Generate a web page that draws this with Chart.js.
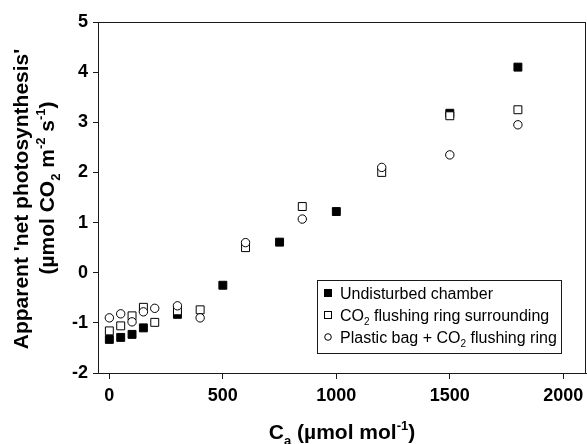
<!DOCTYPE html>
<html>
<head>
<meta charset="utf-8">
<script src="https://cdn.jsdelivr.net/npm/chart.js@4"></script>
<style>
  html, body { margin: 0; padding: 0; background: #fff; }
  canvas { display: block; }
</style>
</head>
<body>
<canvas id="chart" width="587" height="444"></canvas>
<script>
// ---- data ----
const caUndisturbed = [0, 50, 100, 150, 300, 500, 750, 1000, 1500, 1800];
const anUndisturbed = [-1.33, -1.29, -1.23, -1.10, -0.83, -0.25, 0.61, 1.22, 3.18, 4.10];

const caRing = [0, 50, 100, 150, 200, 300, 400, 600, 850, 1200, 1500, 1800];
const anRing = [-1.16, -1.06, -0.86, -0.69, -0.99, -0.76, -0.74, 0.50, 1.32, 2.00, 3.13, 3.25];

const caBag = [0, 50, 100, 150, 200, 300, 400, 600, 850, 1200, 1500, 1800];
const anBag = [-0.90, -0.82, -0.98, -0.78, -0.71, -0.66, -0.90, 0.60, 1.07, 2.10, 2.35, 2.95];

const xTicks = [0, 500, 1000, 1500, 2000];
const yTicks = [-2, -1, 0, 1, 2, 3, 4, 5];

const seriesNames = [
    'Undisturbed chamber',
    'CO_{2} flushing ring surrounding',
    'Plastic bag + CO_{2} flushing ring'
];
const xTitle = 'C_{a} (\u00b5mol mol^{-1})';
const yTitle = ["Apparent 'net photosynthesis'", '(\u00b5mol CO_{2} m^{-2} s^{-1})'];

const FONT = 'Arial, "Liberation Sans", Helvetica, sans-serif';
const INK = '#1a1a1a';

const toPoints = (xs, ys) => xs.map((x, i) => ({ x: x, y: ys[i] }));

// ---- rich text: _{..} subscript, ^{..} superscript ----
function parseRich(str) {
    const parts = [];
    const re = /([_^])\{([^}]*)\}/g;
    let last = 0, m;
    while ((m = re.exec(str)) !== null) {
        if (m.index > last) parts.push({ t: str.slice(last, m.index), k: 'n' });
        parts.push({ t: m[2], k: m[1] === '_' ? 'sub' : 'sup' });
        last = re.lastIndex;
    }
    if (last < str.length) parts.push({ t: str.slice(last), k: 'n' });
    return parts;
}

function richFont(k, size, weight) {
    const s = k === 'n' ? size : Math.round(size * 0.62);
    return weight + ' ' + s + 'px ' + FONT;
}

function richWidth(ctx, str, size, weight) {
    let w = 0;
    parseRich(str).forEach(p => {
        ctx.font = richFont(p.k, size, weight);
        w += ctx.measureText(p.t).width;
    });
    return w;
}

// draws text starting at x (left), baseline y
function drawRich(ctx, str, x, y, size, weight) {
    ctx.textAlign = 'left';
    ctx.textBaseline = 'alphabetic';
    parseRich(str).forEach(p => {
        ctx.font = richFont(p.k, size, weight);
        let dy = 0;
        if (p.k === 'sub') dy = size * 0.28;
        if (p.k === 'sup') dy = -size * 0.42;
        ctx.fillText(p.t, x, y + dy);
        x += ctx.measureText(p.t).width;
    });
}

// ---- plugin: frame, axis titles, legend box ----
const decorPlugin = {
    id: 'decor',
    afterDraw(chart) {
        const ctx = chart.ctx;
        const a = chart.chartArea;
        ctx.save();

        // frame round the plot
        ctx.strokeStyle = INK;
        ctx.lineWidth = 1;
        ctx.strokeRect(Math.round(a.left) + 0.5, Math.round(a.top) + 0.5,
                       Math.round(a.right - a.left) - 1, Math.round(a.bottom - a.top));

        ctx.fillStyle = '#000';

        // x title
        const xs = 21;
        const xw = richWidth(ctx, xTitle, xs, 'bold');
        drawRich(ctx, xTitle, (a.left + a.right) / 2 - xw / 2, 439, xs, 'bold');

        // y title (two lines, rotated)
        const ys = 21;
        const lines = [{ s: yTitle[0], bx: 28, cy: 199 }, { s: yTitle[1], bx: 54, cy: 188 }];
        lines.forEach(l => {
            ctx.save();
            ctx.translate(l.bx, l.cy);
            ctx.rotate(-Math.PI / 2);
            const w = richWidth(ctx, l.s, ys, 'bold');
            drawRich(ctx, l.s, -w / 2, 0, ys, 'bold');
            ctx.restore();
        });

        // legend
        const lx = a.right - 269, ly = a.bottom - 93, lw = 244, lh = 73;
        ctx.fillStyle = '#fff';
        ctx.fillRect(lx, ly, lw, lh);
        ctx.strokeStyle = INK;
        ctx.strokeRect(Math.round(lx) + 0.5, Math.round(ly) + 0.5, lw, lh);
        chart.data.datasets.forEach((ds, i) => {
            const cy = ly + 13 + i * 22;
            const mx = lx + 11;
            ctx.lineWidth = 1;
            ctx.strokeStyle = '#000';
            ctx.fillStyle = ds.backgroundColor;
            if (ds.pointStyle === 'circle') {
                ctx.beginPath();
                ctx.arc(mx, cy, 3.3, 0, Math.PI * 2);
                ctx.fill();
                ctx.stroke();
            } else {
                ctx.fillRect(mx - 3.5, cy - 3.5, 7, 7);
                ctx.strokeRect(mx - 3.5, cy - 3.5, 7, 7);
            }
            ctx.fillStyle = '#000';
            drawRich(ctx, seriesNames[i], lx + 23, cy + 6, 16, 'normal');
        });

        ctx.restore();
    }
};

new Chart(document.getElementById('chart'), {
    type: 'scatter',
    data: {
        datasets: [
            {
                label: seriesNames[0],
                data: toPoints(caUndisturbed, anUndisturbed),
                pointStyle: 'rect',
                pointRadius: 5.6,
                backgroundColor: '#000',
                borderColor: '#000',
                borderWidth: 1,
                order: 3
            },
            {
                label: seriesNames[1],
                data: toPoints(caRing, anRing),
                pointStyle: 'rect',
                pointRadius: 5.6,
                backgroundColor: '#fff',
                borderColor: '#000',
                borderWidth: 1,
                order: 2
            },
            {
                label: seriesNames[2],
                data: toPoints(caBag, anBag),
                pointStyle: 'circle',
                pointRadius: 4.2,
                backgroundColor: '#fff',
                borderColor: '#000',
                borderWidth: 1,
                order: 1
            }
        ]
    },
    options: {
        responsive: false,
        animation: false,
        events: [],
        // autoPadding off: otherwise the point radius eats into the right edge
        layout: { autoPadding: false, padding: { top: 22, right: 1, left: 0, bottom: 0 } },
        plugins: {
            legend: { display: false },
            tooltip: { enabled: false },
            title: { display: false }
        },
        scales: {
            x: {
                type: 'linear',
                min: -50,
                max: 2100,
                afterBuildTicks: s => { s.ticks = xTicks.map(v => ({ value: v })); },
                afterFit: s => { s.height = 71; s.paddingLeft = 0; s.paddingRight = 0; },
                grid: { drawOnChartArea: false, drawTicks: true, tickLength: 6, color: INK },
                border: { display: true, color: INK, width: 1 },
                ticks: {
                    color: '#000', padding: 6, maxRotation: 0,
                    font: { family: FONT, size: 18, weight: 'bold' },
                    callback: v => String(v)
                },
                title: { display: false }
            },
            y: {
                type: 'linear',
                min: -2,
                max: 5,
                afterBuildTicks: s => { s.ticks = yTicks.map(v => ({ value: v })); },
                afterFit: s => { s.width = 98; s.paddingTop = 0; s.paddingBottom = 0; },
                grid: { drawOnChartArea: false, drawTicks: true, tickLength: 5, color: INK },
                border: { display: true, color: INK, width: 1 },
                ticks: {
                    color: '#000', padding: 5,
                    font: { family: FONT, size: 18, weight: 'bold' },
                    callback: v => String(v)
                },
                title: { display: false }
            }
        }
    },
    plugins: [decorPlugin]
});
</script>
</body>
</html>
